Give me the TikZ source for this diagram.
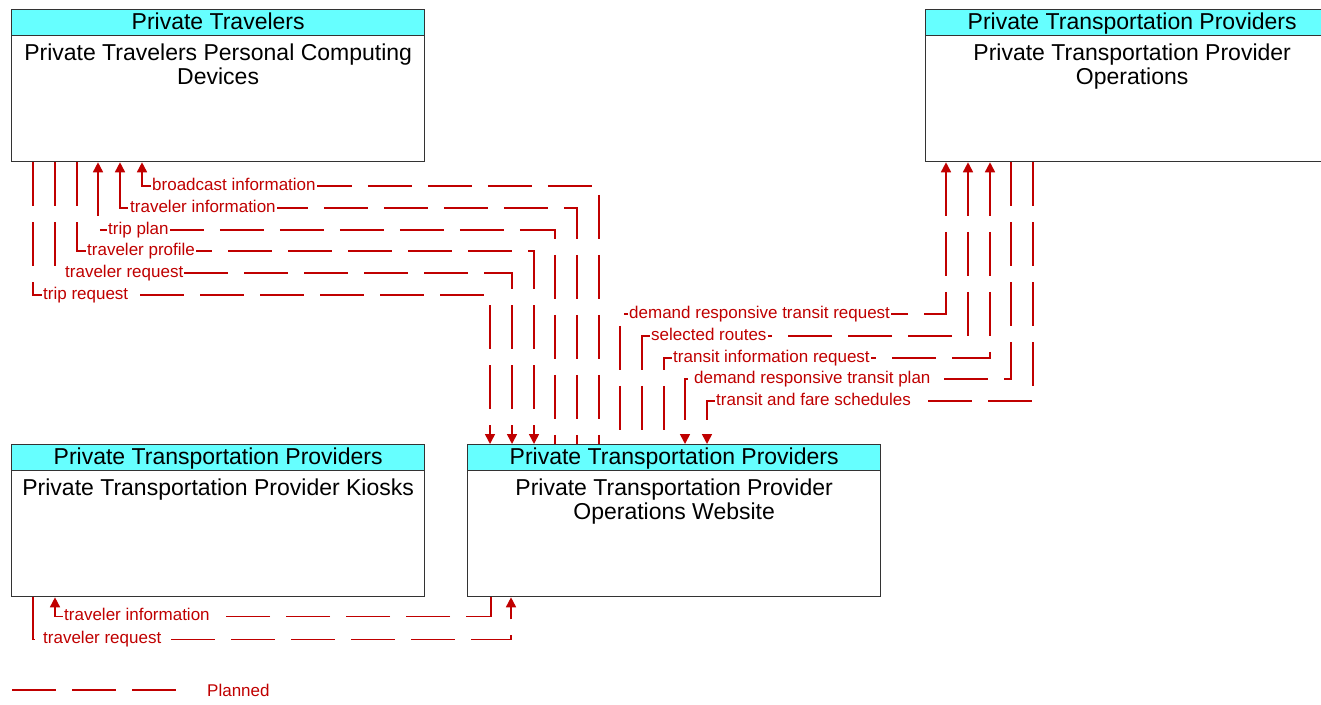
\documentclass[tikz,border=0pt]{standalone}
\usepackage{fontspec}
\setmainfont{Liberation Sans}
\usepackage{tikz}
\usetikzlibrary{positioning,calc,arrows.meta}
\definecolor{flowred}{HTML}{C00000}
\definecolor{hdrcyan}{HTML}{66FFFF}
\definecolor{boxline}{HTML}{333333}

\begin{document}
\begin{tikzpicture}[
    x=1pt, y=-1pt,
    >={Triangle[length=10pt,width=10pt]},
    elem/.style={rectangle,draw=boxline,line width=1.3pt,minimum width=413pt,
      minimum height=152pt,inner sep=0pt,anchor=north west},
    hdr/.style={rectangle,draw=boxline,fill=hdrcyan,line width=1.3pt,minimum width=413pt,
      minimum height=26pt,inner sep=0pt,anchor=north,text height=17pt,text depth=3pt,
      font=\fontsize{23}{24}\selectfont},
    body/.style={anchor=north,align=center,inner sep=0pt,font=\fontsize{23}{24}\selectfont},
    flow/.style={draw=flowred,line width=1.6pt,dash pattern=on 44pt off 16pt},
    fwd/.style={->},
    bwd/.style={<-},
    flowlbl/.style={anchor=west,fill=white,inner sep=1pt,text=flowred,text height=12pt,
      text depth=4pt,font=\fontsize{17}{18}\selectfont}
  ]
    \useasboundingbox (0,0) rectangle (1321,704);

    \node[elem] (trav) at (11,9)   {};
    \node[elem] (ops)  at (925,9)  {};
    \node[elem] (kio)  at (11,444) {};
    \node[elem] (web)  at (467,444) {};

    \node[hdr] (travhdr) at (trav.north) {Private Travelers};
    \node[hdr] (opshdr)  at (ops.north)  {Private Transportation Providers};
    \node[hdr] (kiohdr)  at (kio.north)  {Private Transportation Providers};
    \node[hdr] (webhdr)  at (web.north)  {Private Transportation Providers};

    \node[body] (travtxt) at ($(trav.north)+(0,35)$) {Private Travelers Personal Computing\\Devices};
    \node[body] (opstxt)  at ($(ops.north)+(0,35)$)  {Private Transportation Provider\\Operations};
    \node[body] (kiotxt)  at ($(kio.north)+(0,35)$)  {Private Transportation Provider Kiosks};
    \node[body] (webtxt)  at ($(web.north)+(0,35)$)  {Private Transportation Provider\\Operations Website};

    \foreach \i/\lbl/\dir in {0/trip request/fwd,1/traveler request/fwd,2/traveler profile/fwd,
        3/trip plan/bwd,4/traveler information/bwd,5/broadcast information/bwd} {
      \pgfmathsetmacro{\dx}{round(21.8*\i)}
      \draw[flow,\dir] ($(trav.south west)+(22+\dx,0)$) |- ($(web.north west)+(23+\dx,-149-\dx)$)
        -- ($(web.north west)+(23+\dx,0)$);
      \node[flowlbl] (lbltrav\i) at ($(trav.south west)+(31+\dx,133-\dx)$) {\lbl};
    }

    \foreach \j/\lbl/\dir in {0/demand responsive transit request/bwd,1/selected routes/bwd,
        2/transit information request/bwd,3/demand responsive transit plan/fwd,
        4/transit and fare schedules/fwd} {
      \pgfmathsetmacro{\dx}{round(21.8*\j)}
      \draw[flow,\dir] ($(ops.south west)+(21+\dx,0)$) |- ($(web.north west)+(153+\dx,-130+\dx)$)
        -- ($(web.north west)+(153+\dx,0)$);
      \node[flowlbl] (lblops\j) at ($(web.north west)+(161+\dx,-130+\dx)$) {\lbl};
    }

    \draw[flow,fwd] ($(kio.south west)+(22,0)$) |- ($(web.south west)+(44,42)$) -- ($(web.south west)+(44,0)$);
    \node[flowlbl] (lblkio0) at ($(kio.south west)+(31,42)$) {traveler request};
    \draw[flow,fwd] ($(web.south west)+(24,0)$) |- ($(kio.south west)+(44,19)$) -- ($(kio.south west)+(44,0)$);
    \node[flowlbl] (lblkio1) at ($(kio.south west)+(52,19)$) {traveler information};

    \coordinate (legA) at (12,690);
    \coordinate (legB) at (180,690);
    \draw[flow] (legA) -- (legB);
    \node[flowlbl,fill=none] (legtxt) at (206,692) {Planned};
  \end{tikzpicture}
\end{document}
